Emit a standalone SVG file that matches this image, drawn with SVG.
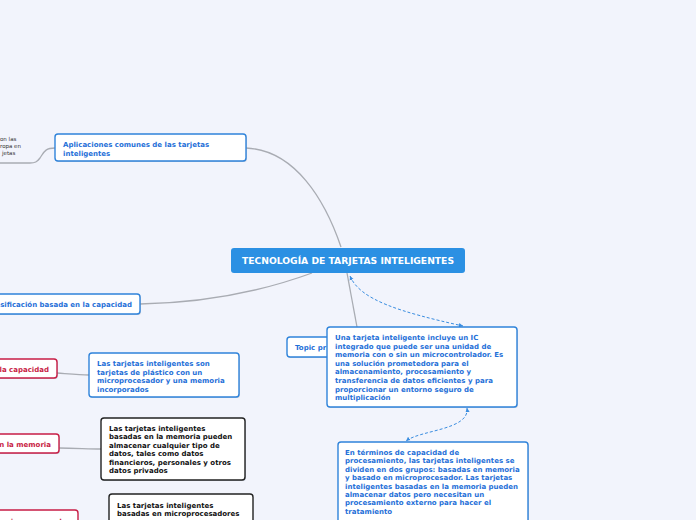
<svg xmlns="http://www.w3.org/2000/svg" width="696" height="520" viewBox="0 0 696 520">
<defs>
<style>
.bg{fill:#f2f4fc}
.node{fill:#ffffff;stroke:#2f83da;stroke-width:1.4}
.red{fill:#ffffff;stroke:#c81d45;stroke-width:1.4}
.blk{fill:#ffffff;stroke:#222222;stroke-width:1.4}
.sh{fill:#9aa3b5;opacity:0.45}
.t{font-family:"DejaVu Sans",Verdana,sans-serif;font-size:7px;font-weight:bold}
.bt{fill:#1f70d8}
.rt{fill:#c81d45}
.kt{fill:#111111}
.link{fill:none;stroke:#a9acb3;stroke-width:1.3}
.dash{fill:none;stroke:#3a8de0;stroke-width:1;stroke-dasharray:3,2}
.small{font-family:"DejaVu Sans",Verdana,sans-serif;font-size:5.5px;fill:#333333}
</style>
<marker id="arr" viewBox="0 0 6 6" refX="5" refY="3" markerWidth="5" markerHeight="5" orient="auto-start-reverse">
<path d="M0,0.5 L5,3 L0,5.5 Z" fill="#3a8de0"/>
</marker>
</defs>
<rect class="bg" x="0" y="0" width="696" height="520"/>

<g id="connectors">
<path class="link" d="M341,247 C325,200 295,150 246,148"/>
<path class="link" d="M55,148 C45,148 44,152 40,158 C37,162 35,163 30,163 L0,163"/>
<path class="link" d="M140,304 C200,303 260,292 312,273"/>
<path class="link" d="M347,273 L357,327"/>
<path class="link" d="M57,373 C70,374 80,375 89,375"/>
<path class="link" d="M59,448 C75,448 88,449 101,449"/>
<path class="dash" d="M350,276 C360,300 400,312 463,326" marker-start="url(#arr)" marker-end="url(#arr)"/>
<path class="dash" d="M467,408 C470,430 420,430 406,441" marker-start="url(#arr)" marker-end="url(#arr)"/>
</g>

<g id="left-fragment">
<text class="small" x="0" y="141">on las</text>
<text class="small" x="0" y="148">ropa en</text>
<text class="small" x="2" y="155">jetas</text>
</g>

<g id="central">
<rect x="231" y="248" width="234" height="25" rx="3" fill="#2b90e3"/>
<text x="348" y="264.3" text-anchor="middle" font-family="DejaVu Sans,Verdana,sans-serif" font-size="9.2" font-weight="bold" fill="#ffffff">TECNOLOGÍA DE TARJETAS INTELIGENTES</text>
</g>

<g id="aplicaciones">
<rect class="sh" x="56" y="135" width="191" height="27" rx="3"/>
<rect class="node" x="55" y="134" width="191" height="27" rx="3"/>
<text class="t bt" x="63" y="146.5">Aplicaciones comunes de las tarjetas</text>
<text class="t bt" x="63" y="155.5">inteligentes</text>
</g>

<g id="clasificacion">
<rect class="sh" x="-9" y="295" width="150" height="20" rx="3"/>
<rect class="node" x="-10" y="294" width="150" height="20" rx="3"/>
<text class="t bt" x="132" y="306.5" text-anchor="end">asificación basada en la capacidad</text>
</g>

<g id="red-capacidad">
<rect class="sh" x="-9" y="360" width="67" height="19" rx="3"/>
<rect class="red" x="-10" y="359" width="67" height="19" rx="3"/>
<text class="t rt" x="49" y="371.5" text-anchor="end">la capacidad</text>
</g>

<g id="plastico">
<rect class="sh" x="90" y="354" width="150" height="44" rx="3"/>
<rect class="node" x="89" y="353" width="150" height="44" rx="3"/>
<text class="t bt" x="97" y="366">Las tarjetas inteligentes son</text>
<text class="t bt" x="97" y="374.7">tarjetas de plástico con un</text>
<text class="t bt" x="97" y="383.3">microprocesador y una memoria</text>
<text class="t bt" x="97" y="392">incorporados</text>
</g>

<g id="red-memoria">
<rect class="sh" x="-9" y="435" width="69" height="19" rx="3"/>
<rect class="red" x="-10" y="434" width="69" height="19" rx="3"/>
<text class="t rt" x="51" y="446.5" text-anchor="end">n la memoria</text>
</g>

<g id="memoria-desc">
<rect class="sh" x="102" y="419" width="144" height="62" rx="3"/>
<rect class="blk" x="101" y="418" width="144" height="62" rx="3"/>
<text class="t kt" x="109" y="430.5">Las tarjetas inteligentes</text>
<text class="t kt" x="109" y="439">basadas en la memoria pueden</text>
<text class="t kt" x="109" y="447.6">almacenar cualquier tipo de</text>
<text class="t kt" x="109" y="456.2">datos, tales como datos</text>
<text class="t kt" x="109" y="464.8">financieros, personales y otros</text>
<text class="t kt" x="109" y="473.4">datos privados</text>
</g>

<g id="red-micro">
<rect class="red" x="-10" y="510" width="88" height="20" rx="3"/>
<text class="t rt" x="70" y="523.5" text-anchor="end">n microprocesador</text>
</g>

<g id="micro-desc">
<rect class="blk" x="109" y="494" width="144" height="40" rx="3"/>
<text class="t kt" x="117" y="507.5">Las tarjetas inteligentes</text>
<text class="t kt" x="117" y="516.3">basadas en microprocesadores</text>
</g>

<g id="topic">
<rect class="sh" x="288" y="338" width="60" height="20" rx="3"/>
<rect class="node" x="287" y="337" width="60" height="20" rx="3"/>
<text class="t bt" x="295" y="349.7">Topic pr</text>
</g>

<g id="definicion">
<rect class="sh" x="328" y="328" width="190" height="80" rx="3"/>
<rect class="node" x="327" y="327" width="190" height="80" rx="3"/>
<text class="t bt" x="335" y="340">Una tarjeta inteligente incluye un IC</text>
<text class="t bt" x="335" y="348.6">integrado que puede ser una unidad de</text>
<text class="t bt" x="335" y="357.2">memoria con o sin un microcontrolador. Es</text>
<text class="t bt" x="335" y="365.8">una solución prometedora para el</text>
<text class="t bt" x="335" y="374.4">almacenamiento, procesamiento y</text>
<text class="t bt" x="335" y="383">transferencia de datos eficientes y para</text>
<text class="t bt" x="335" y="391.6">proporcionar un entorno seguro de</text>
<text class="t bt" x="335" y="400.2">multiplicación</text>
</g>

<g id="procesamiento">
<rect class="sh" x="339" y="443" width="190" height="90" rx="3"/>
<rect class="node" x="338" y="442" width="190" height="90" rx="3"/>
<text class="t bt" x="345" y="455">En términos de capacidad de</text>
<text class="t bt" x="345" y="463.4">procesamiento, las tarjetas inteligentes se</text>
<text class="t bt" x="345" y="471.8">dividen en dos grupos: basadas en memoria</text>
<text class="t bt" x="345" y="480.2">y basado en microprocesador. Las tarjetas</text>
<text class="t bt" x="345" y="488.6">inteligentes basadas en la memoria pueden</text>
<text class="t bt" x="345" y="497">almacenar datos pero necesitan un</text>
<text class="t bt" x="345" y="505.4">procesamiento externo para hacer el</text>
<text class="t bt" x="345" y="513.8">tratamiento</text>
</g>
</svg>
